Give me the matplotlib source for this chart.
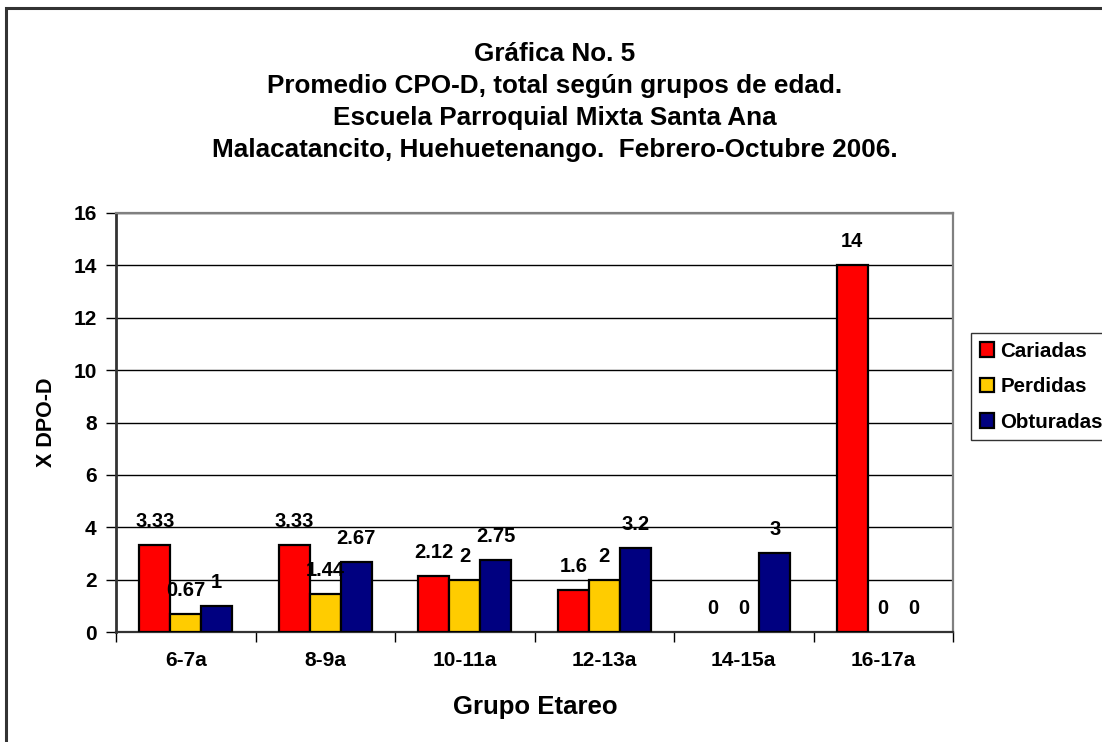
import matplotlib
matplotlib.use("Agg")
import matplotlib.pyplot as plt
from matplotlib.patches import Rectangle
import numpy as np

plt.rcParams['font.family'] = ['Liberation Sans', 'DejaVu Sans']
plt.rcParams['font.weight'] = 'bold'

categories = ["6-7a", "8-9a", "10-11a", "12-13a", "14-15a", "16-17a"]
cariadas = [3.33, 3.33, 2.12, 1.6, 0, 14]
perdidas = [0.67, 1.44, 2, 2, 0, 0]
obturadas = [1, 2.67, 2.75, 3.2, 3, 0]
labels_car = ["3.33", "3.33", "2.12", "1.6", "0", "14"]
labels_per = ["0.67", "1.44", "2", "2", "0", "0"]
labels_obt = ["1", "2.67", "2.75", "3.2", "3", "0"]
series_names = ["Cariadas", "Perdidas", "Obturadas"]
colors = ["#FF0000", "#FFCC00", "#000080"]
title = ("Gráfica No. 5\nPromedio CPO-D, total según grupos de edad.\n"
         "Escuela Parroquial Mixta Santa Ana\n"
         "Malacatancito, Huehuetenango.  Febrero-Octubre 2006.")

W, H = 1102, 742
fig = plt.figure(figsize=(W / 100, H / 100), dpi=100)
fig.patch.set_facecolor("white")

# outer chart frame
fig.patches.append(Rectangle((6 / W, -0.05), 1.2, 1 - 8 / H + 0.05,
                             transform=fig.transFigure, fill=False,
                             edgecolor="#333333", linewidth=2.2, zorder=0))

ax = fig.add_axes([116 / W, (H - 632) / H, (953 - 116) / W, (632 - 213) / H])

x = np.arange(len(categories))
bw = 0.222
all_vals = [cariadas, perdidas, obturadas]
all_labels = [labels_car, labels_per, labels_obt]
handles = []
for i, (vals, labs, col, name) in enumerate(zip(all_vals, all_labels, colors, series_names)):
    xs = x + (i - 1) * bw
    bars = ax.bar(xs, vals, width=bw, color=col, edgecolor="black",
                  linewidth=1.6, label=name, zorder=3)
    handles.append(bars)
    for b, v, lab in zip(bars, vals, labs):
        if v == 0:
            b.set_linewidth(0)
        if lab:
            ax.annotate(lab, (b.get_x() + b.get_width() / 2, v),
                        xytext=(0, 13), textcoords="offset points",
                        ha="center", va="baseline", fontsize=14.5,
                        fontweight="bold", zorder=5)

ax.set_xlim(-0.5, len(categories) - 0.5)
ax.set_ylim(0, 16)
ax.set_yticks(np.arange(0, 17, 2))
ax.yaxis.grid(True, color="black", linewidth=1.0, zorder=0)
ax.set_axisbelow(True)
ax.set_xticks(x)
ax.set_xticklabels(categories, fontsize=15, fontweight="bold")
ax.set_xticks(np.arange(-0.5, len(categories), 1), minor=True)
ax.tick_params(axis="x", which="major", length=0, pad=14)
ax.tick_params(axis="x", which="minor", length=7, width=1.0, direction="out")
ax.tick_params(axis="y", length=7, width=1.0, direction="out", labelsize=15, pad=7)
for lab in ax.get_yticklabels():
    lab.set_fontweight("bold")

for s in ["top", "right"]:
    ax.spines[s].set_color("#808080")
    ax.spines[s].set_linewidth(1.6)
ax.spines["left"].set_color("#333333")
ax.spines["left"].set_linewidth(2.0)
ax.spines["bottom"].set_color("#333333")
ax.spines["bottom"].set_linewidth(1.6)

fig.text(535 / W, 1 - 707 / H, "Grupo Etareo", ha="center", va="center",
         fontsize=18.5, fontweight="bold")
fig.text(47 / W, 1 - 422 / H, "X DPO-D", ha="center", va="center",
         rotation=90, fontsize=15.5, fontweight="bold")

fig.text(555 / W, 1 - 102 / H, title, ha="center", va="center",
         fontsize=18.8, fontweight="bold", linespacing=1.43)

leg = fig.legend(handles=handles, labels=series_names, loc="upper left",
                 bbox_to_anchor=(971 / W, 1 - 333 / H), frameon=True,
                 fancybox=False, edgecolor="black", fontsize=14.8,
                 handlelength=0.72, handleheight=0.72, handletextpad=0.3,
                 labelspacing=0.8, borderpad=0.42, borderaxespad=0)
leg.get_frame().set_linewidth(1.0)
for t in leg.get_texts():
    t.set_fontweight("bold")

fig.savefig("out.png", dpi=100)
